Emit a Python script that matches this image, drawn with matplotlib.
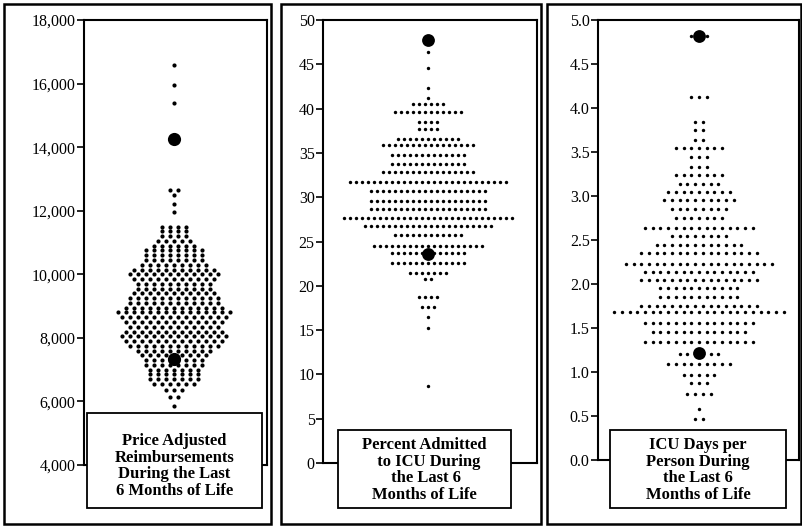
import matplotlib
matplotlib.use("Agg")
import matplotlib.pyplot as plt
import numpy as np
from matplotlib.patches import Rectangle

plt.rcParams['font.family'] = ['Liberation Serif', 'DejaVu Serif']

# ---------------- data ----------------
# Panel 1: price adjusted reimbursements (row value, number of dots in row)
reimb_values = [5850, 6150, 6350, 6550, 6700, 6850, 7000, 7150, 7300, 7450,
                7600, 7750, 7900, 8050, 8200, 8350, 8500, 8650, 8800, 8950,
                9100, 9250, 9400, 9550, 9700, 9850, 10000, 10150, 10300, 10450,
                10600, 10750, 10900, 11050, 11200, 11350, 11500, 11950, 12200,
                12500, 12650, 15400, 15950, 16600]
reimb_counts = [1, 2, 3, 6, 7, 7, 7, 8, 8, 9,
                10, 12, 13, 14, 13, 12, 13, 14, 15, 13,
                12, 12, 11, 10, 10, 11, 12, 11, 9, 8,
                8, 8, 6, 5, 4, 4, 4, 1, 1,
                1, 2, 1, 1, 1]
reimb_big = [14270, 7320]
reimb_ticks = [4000, 6000, 8000, 10000, 12000, 14000, 16000, 18000]
reimb_ticklabels = ['4,000', '6,000', '8,000', '10,000', '12,000', '14,000', '16,000', '18,000']
reimb_label = "Price Adjusted\nReimbursements\nDuring the Last\n6 Months of Life"

# Panel 2: percent admitted to ICU
icu_pct_values = [8.65, 15.2, 16.5, 17.6, 18.7, 20.8, 21.5, 22.6, 23.7, 24.5,
                  25.7, 26.7, 27.7, 28.7, 29.6, 30.7, 31.7, 32.8, 33.7, 34.8,
                  35.9, 36.6, 37.7, 38.5, 39.6, 40.5, 41.2, 42.3, 44.6, 46.4]
icu_pct_counts = [1, 1, 1, 3, 4, 2, 7, 13, 13, 19,
                  12, 22, 29, 20, 20, 20, 27, 16, 13, 13,
                  16, 11, 4, 4, 12, 6, 1, 1, 1, 1]
icu_pct_big = [47.7, 23.6]
icu_pct_ticks = [0, 5, 10, 15, 20, 25, 30, 35, 40, 45, 50]
icu_pct_ticklabels = ['0', '5', '10', '15', '20', '25', '30', '35', '40', '45', '50']
icu_pct_label = "Percent Admitted\n  to ICU During\n the Last 6\nMonths of Life"

# Panel 3: ICU days per person
icu_days_values = [0.47, 0.58, 0.75, 0.87, 0.97, 1.09, 1.20, 1.34, 1.45, 1.56,
                   1.68, 1.75, 1.85, 1.95, 2.05, 2.14, 2.23, 2.35, 2.44, 2.55,
                   2.64, 2.75, 2.85, 2.95, 3.05, 3.14, 3.24, 3.33, 3.44, 3.55,
                   3.64, 3.75, 3.84, 4.13, 4.82]
icu_days_counts = [2, 1, 4, 3, 5, 9, 6, 15, 13, 15,
                   23, 16, 11, 11, 16, 15, 20, 16, 12, 8,
                   15, 7, 8, 10, 9, 6, 7, 3, 3, 7,
                   2, 2, 2, 3, 3]
icu_days_big = [4.82, 1.22]
icu_days_ticks = [0.0, 0.5, 1.0, 1.5, 2.0, 2.5, 3.0, 3.5, 4.0, 4.5, 5.0]
icu_days_ticklabels = ['0.0', '0.5', '1.0', '1.5', '2.0', '2.5', '3.0', '3.5', '4.0', '4.5', '5.0']
icu_days_label = "ICU Days per\nPerson During\nthe Last 6\nMonths of Life"

# ---------------- layout ----------------
W, H = 803, 528
fig = plt.figure(figsize=(W / 100, H / 100), dpi=100)
fig.patch.set_facecolor('white')


def fx(x):
    return x / W


def fy(y):
    return 1 - y / H


panels = [
    dict(values=reimb_values, counts=reimb_counts, big=reimb_big,
         ticks=reimb_ticks, ticklabels=reimb_ticklabels, label=reimb_label,
         ylim=(4000, 18000), frame=(4, 4, 271, 524), ax=(84, 20, 267, 465),
         center=90, sp=8.0, s=9, bigs=90, lbox=(87, 413, 262, 508), ty=466),
    dict(values=icu_pct_values, counts=icu_pct_counts, big=icu_pct_big,
         ticks=icu_pct_ticks, ticklabels=icu_pct_ticklabels, label=icu_pct_label,
         ylim=(0, 50), frame=(281, 4, 541, 524), ax=(323, 20, 537, 463),
         center=105, sp=6.0, s=6, bigs=85, lbox=(338, 430, 511, 508), ty=470),
    dict(values=icu_days_values, counts=icu_days_counts, big=icu_days_big,
         ticks=icu_days_ticks, ticklabels=icu_days_ticklabels, label=icu_days_label,
         ylim=(0, 5), frame=(547, 4, 801, 524), ax=(598, 20, 799, 460),
         center=101, sp=7.7, s=6, bigs=85, lbox=(610, 430, 786, 508), ty=470),
]

for p in panels:
    l, t, r, b = p['ax']
    ax = fig.add_axes([fx(l), fy(b), (r - l) / W, (b - t) / H])
    ax.set_xlim(0, r - l)
    ax.set_ylim(*p['ylim'])
    xs, ys = [], []
    for v, n in zip(p['values'], p['counts']):
        offs = (np.arange(n) - (n - 1) / 2.0) * p['sp']
        xs.extend(p['center'] + offs)
        ys.extend([v] * n)
    ax.scatter(xs, ys, s=p['s'], c='black', marker='o', linewidths=0, zorder=3)
    ax.scatter([p['center']] * len(p['big']), p['big'], s=p['bigs'], c='black',
               linewidths=0, zorder=4)
    ax.set_xticks([])
    ax.set_yticks(p['ticks'])
    ax.set_yticklabels(p['ticklabels'])
    ax.tick_params(axis='y', direction='out', length=5, width=1.2,
                   labelsize=11.5, pad=1, colors='black')
    for sp in ax.spines.values():
        sp.set_linewidth(1.5)
        sp.set_color('black')

    # outer frame
    fl, ft, fr, fb = p['frame']
    fig.add_artist(Rectangle((fx(fl), fy(fb)), (fr - fl) / W, (fb - ft) / H,
                             transform=fig.transFigure, fill=False,
                             edgecolor='black', linewidth=1.8, zorder=5))
    # label box
    bl, bt, br, bb = p['lbox']
    fig.add_artist(Rectangle((fx(bl), fy(bb)), (br - bl) / W, (bb - bt) / H,
                             transform=fig.transFigure, facecolor='white',
                             edgecolor='black', linewidth=1.3, zorder=6))
    fig.text(fx((bl + br) / 2), fy(p['ty']), p['label'],
             ha='center', va='center', multialignment='center',
             fontsize=12, fontweight='bold', linespacing=1.05, zorder=7)

fig.savefig('out.png', dpi=100, facecolor='white')
